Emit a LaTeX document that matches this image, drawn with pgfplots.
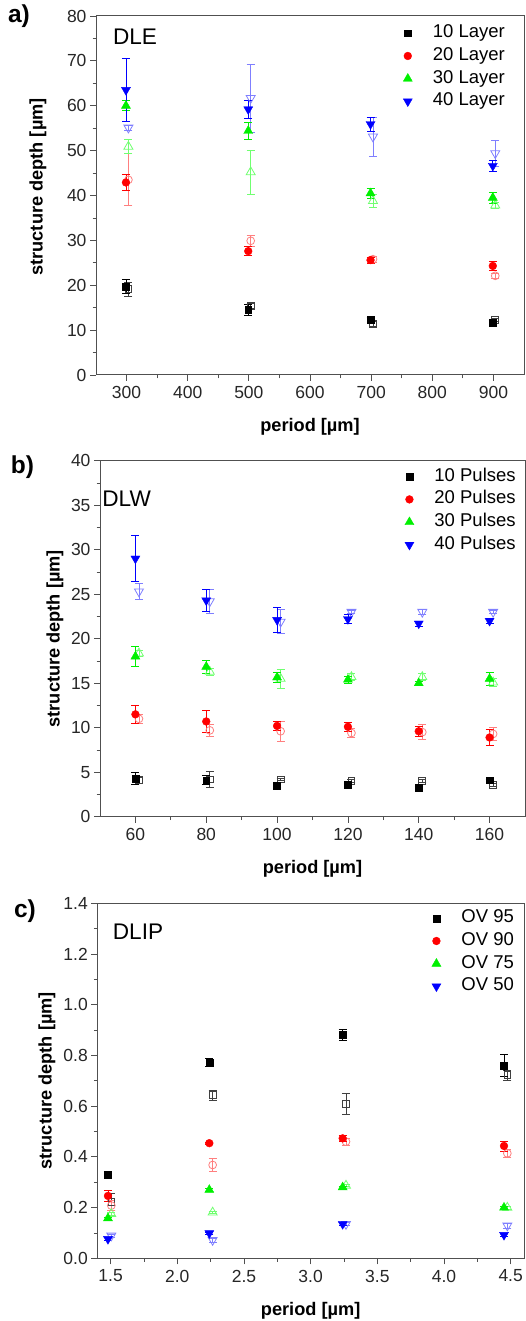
\documentclass[border=0pt]{standalone}
\usepackage{fontspec}
\setmainfont{Liberation Sans}
\usepackage{pgfplots}
\pgfplotsset{compat=1.18}
\definecolor{fr}{HTML}{505050}
\definecolor{cred}{HTML}{FF0000}
\definecolor{cgreen}{HTML}{00F000}
\definecolor{cblue}{HTML}{0000FF}
\definecolor{oblack}{HTML}{404040}
\definecolor{ored}{HTML}{FF7F7F}
\definecolor{ogreen}{HTML}{70FF70}
\definecolor{oblue}{HTML}{7F7FFF}
\pgfplotsset{
  panel/.style={
    scale only axis,
    axis line style={fr, line width=1pt},
    tick style={fr, line width=0.8pt},
    major tick length=6pt, minor tick length=3.5pt,
    tick align=outside, xtick pos=bottom, ytick pos=left,
    minor x tick num=1, minor y tick num=1,
    tick label style={font=\fontsize{17.5}{19}\selectfont, text=black!85},
    xticklabel style={yshift=-2pt},
    /pgf/number format/assume math mode=true,
    label style={font=\bfseries\fontsize{18.2}{20}\selectfont},
    xlabel={period [µm]}, ylabel={structure depth [µm]},
    xlabel style={at={(axis description cs:0.5,0)}, anchor=center, yshift=-52pt},
    legend style={draw=none, fill=none, inner sep=0pt, outer sep=0pt,
      font=\fontsize{18.5}{20}\selectfont,
      nodes={inner sep=1pt, text height=13.5pt, text depth=4.5pt},
      row sep=2.7pt,
      /tikz/every odd column/.append style={column sep=19.5pt}},
    legend cell align=left,
  },
  eb/.style={error bars/.cd, y dir=both, y explicit,
    error bar style={line width=0.7pt},
    error mark options={rotate=90, mark size=4pt, line width=0.7pt}},
  fsq/.style={only marks, mark=square*, mark size=3.4pt, color=black, eb},
  fci/.style={only marks, mark=*, mark size=3.9pt, color=cred, eb},
  ftu/.style={only marks, mark=triangle*, mark size=5.2pt, color=cgreen, eb},
  ftd/.style={only marks, mark=triangle*, mark size=5.2pt, mark options={rotate=180}, color=cblue, eb},
  osq/.style={only marks, mark=square, mark size=3.4pt, mark options={line width=0.8pt}, color=oblack, forget plot, eb},
  oci/.style={only marks, mark=o, mark size=3.9pt, mark options={line width=0.8pt}, color=ored, forget plot, eb},
  otu/.style={only marks, mark=triangle, mark size=5.2pt, mark options={line width=0.8pt}, color=ogreen, forget plot, eb},
  otd/.style={only marks, mark=triangle, mark size=5.2pt, mark options={rotate=180, line width=0.8pt}, color=oblue, forget plot, eb},
}
\begin{document}
\begin{tikzpicture}
\useasboundingbox (0pt,0pt) rectangle (525pt,1321pt);
% ---------------- panel a
\begin{axis}[panel, at={(96pt,946pt)}, anchor=south west, width=428pt, height=359pt,
  xmin=250, xmax=950, ymin=0, ymax=80,
  xtick={300,400,...,900}, ytick={0,10,...,80},
  ylabel style={at={(axis description cs:-0.1357,0.524)}, anchor=center},
  legend style={at={(axis description cs:0.718,0.9797)}, anchor=north west}]
\addplot[osq] coordinates {(303,19.1) +- (0,1.5) (503,15.4) +- (0,0.5) (703,11.4) +- (0,0.5) (903,12.3) +- (0,0.4)};
\addplot[oci] coordinates {(303,43.5) +- (0,5.8) (503,29.9) +- (0,1.2) (703,25.8) +- (0,0.6) (903,22.1) +- (0,0.5)};
\addplot[otu] coordinates {(303,50.9) +- (0,1.6) (503,45.2) +- (0,4.9) (703,38.8) +- (0,1.5) (903,37.8) +- (0,0.6)};
\addplot[otd] coordinates {(303,55.1) +- (0,0.5) (503,61.7) +- (0,7.6) (703,53.1) +- (0,4.3) (903,49.4) +- (0,2.8)};
\addplot[fsq] coordinates {(299,19.7) +- (0,1.5) (499,14.5) +- (0,1.2) (699,12.3) +- (0,0.6) (899,11.7) +- (0,0.5)};
\addlegendentry{10 Layer}
\addplot[fci] coordinates {(299,42.9) +- (0,1.8) (499,27.6) +- (0,1.0) (699,25.6) +- (0,0.7) (899,24.3) +- (0,1.0)};
\addlegendentry{20 Layer}
\addplot[ftu] coordinates {(299,60.0) +- (0,1.1) (499,54.4) +- (0,1.8) (699,40.5) +- (0,1.1) (899,39.5) +- (0,1.2)};
\addlegendentry{30 Layer}
\addplot[ftd] coordinates {(299,63.5) +- (0,7.0) (499,59.2) +- (0,2.0) (699,55.9) +- (0,1.5) (899,46.6) +- (0,1.3)};
\addlegendentry{40 Layer}
\end{axis}
% ---------------- panel b
\begin{axis}[panel, at={(100pt,504.3pt)}, anchor=south west, width=425pt, height=356pt,
  xmin=50, xmax=170, ymin=0, ymax=40,
  xtick={60,80,...,160}, ytick={0,5,...,40},
  ylabel style={at={(axis description cs:-0.1059,0.5)}, anchor=center},
  legend style={at={(axis description cs:0.7175,0.9831)}, anchor=north west}]
\addplot[osq] coordinates {(61,4.1) +- (0,0.3) (81,4.2) +- (0,0.9) (101,4.2) +- (0,0.15) (121,4.0) +- (0,0.15) (141,4.0) +- (0,0.15) (161,3.6) +- (0,0.15)};
\addplot[oci] coordinates {(61,11.0) +- (0,0.5) (81,9.7) +- (0,0.7) (101,9.6) +- (0,1.1) (121,9.4) +- (0,0.5) (141,9.5) +- (0,0.85) (161,9.3) +- (0,0.7)};
\addplot[otu] coordinates {(61,18.35) +- (0,0.3) (81,16.3) +- (0,0.4) (101,15.5) +- (0,1.05) (121,15.7) +- (0,0.4) (141,15.7) +- (0,0.4) (161,15.1) +- (0,0.4)};
\addplot[otd] coordinates {(61,25.3) +- (0,0.9) (81,24.2) +- (0,1.3) (101,21.9) +- (0,1.35) (121,23.0) +- (0,0.2) (141,23.0) +- (0,0.3) (161,23.0) +- (0,0.2)};
\addplot[fsq] coordinates {(60,4.3) +- (0,0.65) (80,4.1) +- (0,0.5) (100,3.5) +- (0,0.15) (120,3.55) +- (0,0.15) (140,3.3) +- (0,0.15) (160,4.1) +- (0,0.15)};
\addlegendentry{10 Pulses}
\addplot[fci] coordinates {(60,11.5) +- (0,1.05) (80,10.7) +- (0,1.2) (100,10.2) +- (0,0.5) (120,10.1) +- (0,0.5) (140,9.6) +- (0,0.6) (160,8.9) +- (0,0.9)};
\addlegendentry{20 Pulses}
\addplot[ftu] coordinates {(60,18.0) +- (0,1.1) (80,16.85) +- (0,0.7) (100,15.65) +- (0,0.6) (120,15.4) +- (0,0.4) (140,15.0) +- (0,0.2) (160,15.5) +- (0,0.7)};
\addlegendentry{30 Pulses}
\addplot[ftd] coordinates {(60,29.0) +- (0,2.6) (80,24.3) +- (0,1.2) (100,22.1) +- (0,1.4) (120,22.2) +- (0,0.5) (140,21.7) +- (0,0.3) (160,22.0) +- (0,0.3)};
\addlegendentry{40 Pulses}
\end{axis}
% ---------------- panel c
\begin{axis}[panel, at={(97.3pt,62.7pt)}, anchor=south west, width=426.7pt, height=355pt,
  xmin=1.4, xmax=4.6, ymin=0, ymax=1.4,
  xtick={1.5,2.0,...,4.5}, ytick={0,0.2,...,1.4},
  xticklabel style={/pgf/number format/.cd, fixed, fixed zerofill, precision=1},
  yticklabel style={/pgf/number format/.cd, fixed, fixed zerofill, precision=1},
  ylabel style={at={(axis description cs:-0.1179,0.5)}, anchor=center},
  legend style={at={(axis description cs:0.7842,0.9859)}, anchor=north west}]
\addplot[osq] coordinates {(1.505,0.223) +- (0,0.035) (2.265,0.644) +- (0,0.02) (3.265,0.609) +- (0,0.043) (4.475,0.723) +- (0,0.02)};
\addplot[oci] coordinates {(1.505,0.208) +- (0,0.02) (2.265,0.368) +- (0,0.026) (3.265,0.46) +- (0,0.015) (4.475,0.414) +- (0,0.015)};
\addplot[otu] coordinates {(1.505,0.175) +- (0,0.005) (2.265,0.181) +- (0,0.005) (3.265,0.287) +- (0,0.005) (4.475,0.2) +- (0,0.005)};
\addplot[otd] coordinates {(1.505,0.089) +- (0,0.005) (2.265,0.072) +- (0,0.008) (3.265,0.135) +- (0,0.005) (4.475,0.129) +- (0,0.01)};
\addplot[fsq] coordinates {(1.48,0.329) +- (0,0.015) (2.24,0.772) +- (0,0.015) (3.24,0.881) +- (0,0.02) (4.45,0.760) +- (0,0.044)};
\addlegendentry{OV 95}
\addplot[fci] coordinates {(1.48,0.246) +- (0,0.022) (2.24,0.454) +- (0,0.005) (3.24,0.473) +- (0,0.01) (4.45,0.443) +- (0,0.02)};
\addlegendentry{OV 90}
\addplot[ftu] coordinates {(1.48,0.158) +- (0,0.005) (2.24,0.27) +- (0,0.005) (3.24,0.28) +- (0,0.005) (4.45,0.2) +- (0,0.005)};
\addlegendentry{OV 75}
\addplot[ftd] coordinates {(1.48,0.076) +- (0,0.005) (2.24,0.099) +- (0,0.005) (3.24,0.135) +- (0,0.005) (4.45,0.092) +- (0,0.005)};
\addlegendentry{OV 50}
\end{axis}
% ---------------- labels
\node[font=\bfseries\fontsize{24.5}{27}\selectfont] at (19pt,1305pt) {a)};
\node[font=\bfseries\fontsize{24.5}{27}\selectfont] at (22.5pt,853.5pt) {b)};
\node[font=\bfseries\fontsize{24.5}{27}\selectfont] at (25pt,410pt) {c)};
\node[font=\fontsize{22.6}{25}\selectfont] at (135pt,1284.3pt) {DLE};
\node[font=\fontsize{22.6}{25}\selectfont] at (126.7pt,822pt) {DLW};
\node[font=\fontsize{22.6}{25}\selectfont] at (138pt,389.5pt) {DLIP};
\end{tikzpicture}
\end{document}
